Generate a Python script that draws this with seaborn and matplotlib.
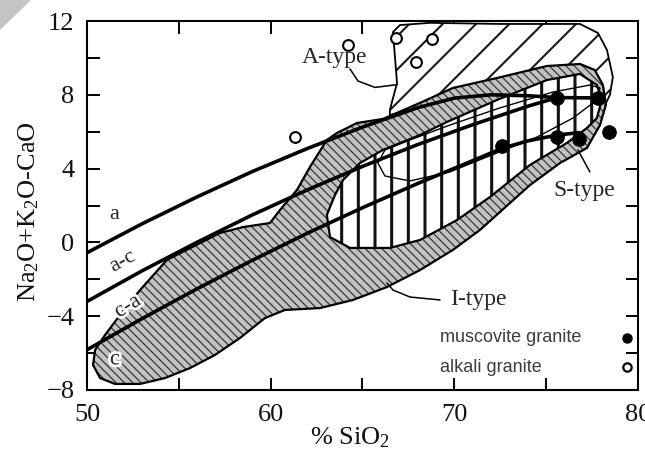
import matplotlib
matplotlib.use("Agg")
import matplotlib.pyplot as plt
import matplotlib.patheffects as pe
from matplotlib.patches import Polygon
import numpy as np
import pandas as pd
import seaborn as sns

# ---- sample data -------------------------------------------------------
si_muscovite = [72.6, 75.6, 75.6, 76.8, 77.8, 78.4]
mali_muscovite = [5.2, 7.8, 5.7, 5.6, 7.8, 6.0]
si_alkali = [61.3, 64.2, 66.8, 67.9, 68.8]
mali_alkali = [5.7, 10.7, 11.1, 9.8, 11.0]

# ---- MALI boundary curves ----------------------------------------------
si_a_ac = [50, 53, 56, 59, 62, 65, 68, 70, 72, 74, 75.6, 77.8]
mali_a_ac = [-0.56, 1.01, 2.47, 3.84, 5.09, 6.25, 7.30, 7.82, 8.00, 7.95, 7.85, 7.83]
si_ac_ca = [50, 53, 56, 59, 62, 65, 68, 71, 74, 75.6]
mali_ac_ca = [-3.20, -1.54, 0.01, 1.49, 2.85, 4.12, 5.30, 6.38, 7.38, 7.85]
si_ca_c = [50, 53, 56, 59, 62, 65, 68, 71, 72.6, 74, 75.6, 76.8]
mali_ca_c = [-5.82, -4.13, -2.51, -0.97, 0.50, 1.88, 3.19, 4.43, 5.10, 5.50, 5.82, 5.95]

# ---- granite type fields -------------------------------------------------
itype_si = [50.44, 50.33, 50.71, 51.52, 52.89, 54.25, 55.61, 56.97, 58.33, 59.69,
            60.78, 62.68, 64.48, 66.33, 68.13, 69.92, 71.39, 74.12, 75.75, 77.22,
            77.93, 78.25, 78.09, 77.65, 76.84, 75.04, 72.32, 69.92, 68.13, 66.11,
            64.70, 63.61, 63.06, 62.14, 61.43, 60.51, 59.96, 58.49, 57.24, 54.35,
            52.89, 51.80, 50.98]
itype_mali = [-5.83, -6.64, -7.35, -7.67, -7.67, -7.35, -6.81, -6.10, -5.18, -4.10,
              -3.66, -3.56, -3.12, -2.42, -1.50, -0.41, 0.67, 3.11, 4.30, 5.12,
              6.36, 7.45, 8.53, 9.34, 9.67, 9.56, 8.91, 8.37, 7.56, 6.69,
              6.47, 5.93, 5.55, 4.09, 2.84, 1.76, 1.05, 0.83, 0.51, -0.95,
              -2.58, -3.93, -5.02]

stype_si = [63.94, 64.86, 66.11, 68.13, 69.60, 72.32, 75.04, 76.84, 77.76, 78.03,
            77.76, 77.22, 76.13, 74.12, 71.94, 70.14, 68.13, 66.49, 64.32, 63.23,
            63.06, 63.50]
stype_mali = [3.38, 4.30, 5.01, 5.82, 6.53, 7.72, 8.80, 9.13, 8.53, 7.72,
              6.74, 6.20, 5.39, 4.20, 2.46, 1.21, 0.13, -0.30, -0.30, 0.29,
              1.49, 2.57]

atype_si = [66.66, 67.04, 68.67, 72.48, 76.84, 77.82, 78.31, 78.63, 78.47, 77.93,
            76.84, 69.76, 66.49, 66.49, 66.88]
atype_mali = [11.40, 11.78, 11.90, 11.84, 11.84, 11.35, 10.43, 8.96, 7.99, 6.90,
              7.18, 7.72, 6.90, 7.18, 8.64]

loop_si = [65.84, 66.22, 67.58, 69.76, 71.77, 74.50, 76.46, 77.76, 77.93, 77.38,
           75.37, 72.48, 69.76, 67.58, 66.22]
loop_mali = [4.30, 3.60, 3.33, 3.82, 4.63, 5.71, 6.74, 7.72, 8.37, 8.53,
             8.15, 7.29, 6.36, 5.55, 5.01]

# leader curves for the field names
lead_a_si = [64.32, 64.75, 65.68, 66.88]
lead_a_mali = [9.40, 8.75, 8.40, 8.55]
lead_i_si = [69.22, 67.58, 66.66, 66.33]
lead_i_mali = [-3.12, -2.96, -2.58, -2.20]
lead_s_si = [77.38, 76.73]
lead_s_mali = [3.82, 5.01]

# ---- style -------------------------------------------------------------
sns.set_theme(style="ticks")
plt.rcParams["font.family"] = ["Liberation Serif", "DejaVu Serif"]
plt.rcParams["mathtext.fontset"] = "custom"
plt.rcParams["mathtext.rm"] = "Liberation Serif"
plt.rcParams["mathtext.it"] = "Liberation Serif:italic"
plt.rcParams["axes.linewidth"] = 1.5

fig = plt.figure(figsize=(6.45, 4.54), dpi=100)
ax = fig.add_axes([87 / 645, 1 - 390 / 454, 551 / 645, 369 / 454])
ax.set_xlim(50, 80)
ax.set_ylim(-8, 12)


def field(xs, ys, face, hatch, hatch_color, hatch_lw, edge_lw, z):
    with plt.rc_context({"hatch.linewidth": hatch_lw}):
        body = Polygon(np.column_stack([xs, ys]), closed=True, facecolor=face,
                       edgecolor=hatch_color, hatch=hatch, linewidth=0, zorder=z)
    if hasattr(body, "set_hatch_linewidth"):
        body.set_hatch_linewidth(hatch_lw)
    ax.add_patch(body)
    rim = Polygon(np.column_stack([xs, ys]), closed=True, fill=False,
                  edgecolor="black", linewidth=edge_lw, zorder=z + 0.1)
    ax.add_patch(rim)


field(atype_si, atype_mali, "white", "/", "#1a1a1a", 1.5, 1.3, 1)
field(itype_si, itype_mali, "#c2c2c2", "\\\\\\\\", "#383838", 0.9, 1.6, 2)
field(stype_si, stype_mali, "white", "|", "#111111", 2.2, 1.6, 3)
ax.fill(loop_si, loop_mali, fill=False, edgecolor="black", linewidth=1.0, zorder=4)

# boundary curves
bounds = pd.concat([
    pd.DataFrame({"SiO2": si_a_ac, "MALI": mali_a_ac, "boundary": "a/a-c"}),
    pd.DataFrame({"SiO2": si_ac_ca, "MALI": mali_ac_ca, "boundary": "a-c/c-a"}),
    pd.DataFrame({"SiO2": si_ca_c, "MALI": mali_ca_c, "boundary": "c-a/c"}),
])
sns.lineplot(data=bounds, x="SiO2", y="MALI", units="boundary", estimator=None,
             color="black", linewidth=2.6, ax=ax, zorder=5, legend=False)

# leaders
for lx, ly in [(lead_a_si, lead_a_mali), (lead_i_si, lead_i_mali), (lead_s_si, lead_s_mali)]:
    ax.plot(lx, ly, color="black", linewidth=1.1, zorder=6)

# samples
sns.scatterplot(x=si_muscovite, y=mali_muscovite, s=95, color="black",
                edgecolor="black", ax=ax, zorder=7)
sns.scatterplot(x=si_alkali, y=mali_alkali, s=60, facecolor="white",
                edgecolor="black", linewidth=1.5, ax=ax, zorder=7)

# field and series names
ax.text(63.5, 10.0, "A-type", fontsize=17, ha="center", va="center", zorder=8)
ax.text(71.3, -3.12, "I-type", fontsize=17, ha="center", va="center", zorder=8)
ax.text(77.1, 2.84, "S-type", fontsize=17, ha="center", va="center", zorder=8)

halo = [pe.withStroke(linewidth=4, foreground="white")]
ax.text(51.5, 1.5, "a", fontsize=16, ha="center", va="center", zorder=8)
ax.text(51.96, -1.06, "a-c", fontsize=16, ha="center", va="center",
        rotation=29, zorder=8)
ax.text(52.23, -3.5, "c-a", fontsize=16, ha="center", va="center",
        rotation=32, zorder=8, path_effects=halo)
ax.text(51.52, -6.37, "c", fontsize=16, ha="center", va="center",
        zorder=8, path_effects=halo)

# key
ax.text(0.641, 0.141, "muscovite granite", transform=ax.transAxes, fontsize=13,
        family="Liberation Sans", color="#3c3c3c", va="center", ha="left")
ax.text(0.641, 0.062, "alkali granite", transform=ax.transAxes, fontsize=13,
        family="Liberation Sans", color="#3c3c3c", va="center", ha="left")
ax.plot([0.980], [0.141], "o", transform=ax.transAxes, color="black", markersize=6.5,
        clip_on=False, zorder=8)
ax.plot([0.980], [0.062], "o", transform=ax.transAxes, markerfacecolor="white",
        markeredgecolor="black", markeredgewidth=1.6, markersize=6, clip_on=False, zorder=8)

# axes
ax.set_xticks([50, 60, 70, 80])
ax.set_xticks([55, 65, 75], minor=True)
ax.set_yticks([-8, -4, 0, 4, 8, 12])
ax.set_yticks([-6, -2, 2, 6, 10], minor=True)
ax.tick_params(which="both", direction="in", length=9, width=1.4, top=True,
               right=True, color="black", labelcolor="#111111")
ax.tick_params(axis="both", which="major", labelsize=19)
ax.tick_params(axis="x", which="major", pad=10)
ax.tick_params(axis="y", which="major", pad=9)
for sp in ax.spines.values():
    sp.set_color("black")
    sp.set_zorder(10)

ax.set_xlabel("% SiO$_2$", fontsize=19, color="#111111")
ax.set_ylabel("Na$_2$O+K$_2$O-CaO", fontsize=19, color="#111111")
ax.xaxis.set_label_coords(0.477, -0.095)
ax.yaxis.set_label_coords(-0.083, 0.485)

# page corner
fig.patches.append(Polygon([[0, 1], [31 / 645, 1], [0, 1 - 30 / 454]], closed=True,
                           transform=fig.transFigure, facecolor="#c4c4c4",
                           edgecolor="none", figure=fig))

fig.savefig("out.png", dpi=100, facecolor="white")
